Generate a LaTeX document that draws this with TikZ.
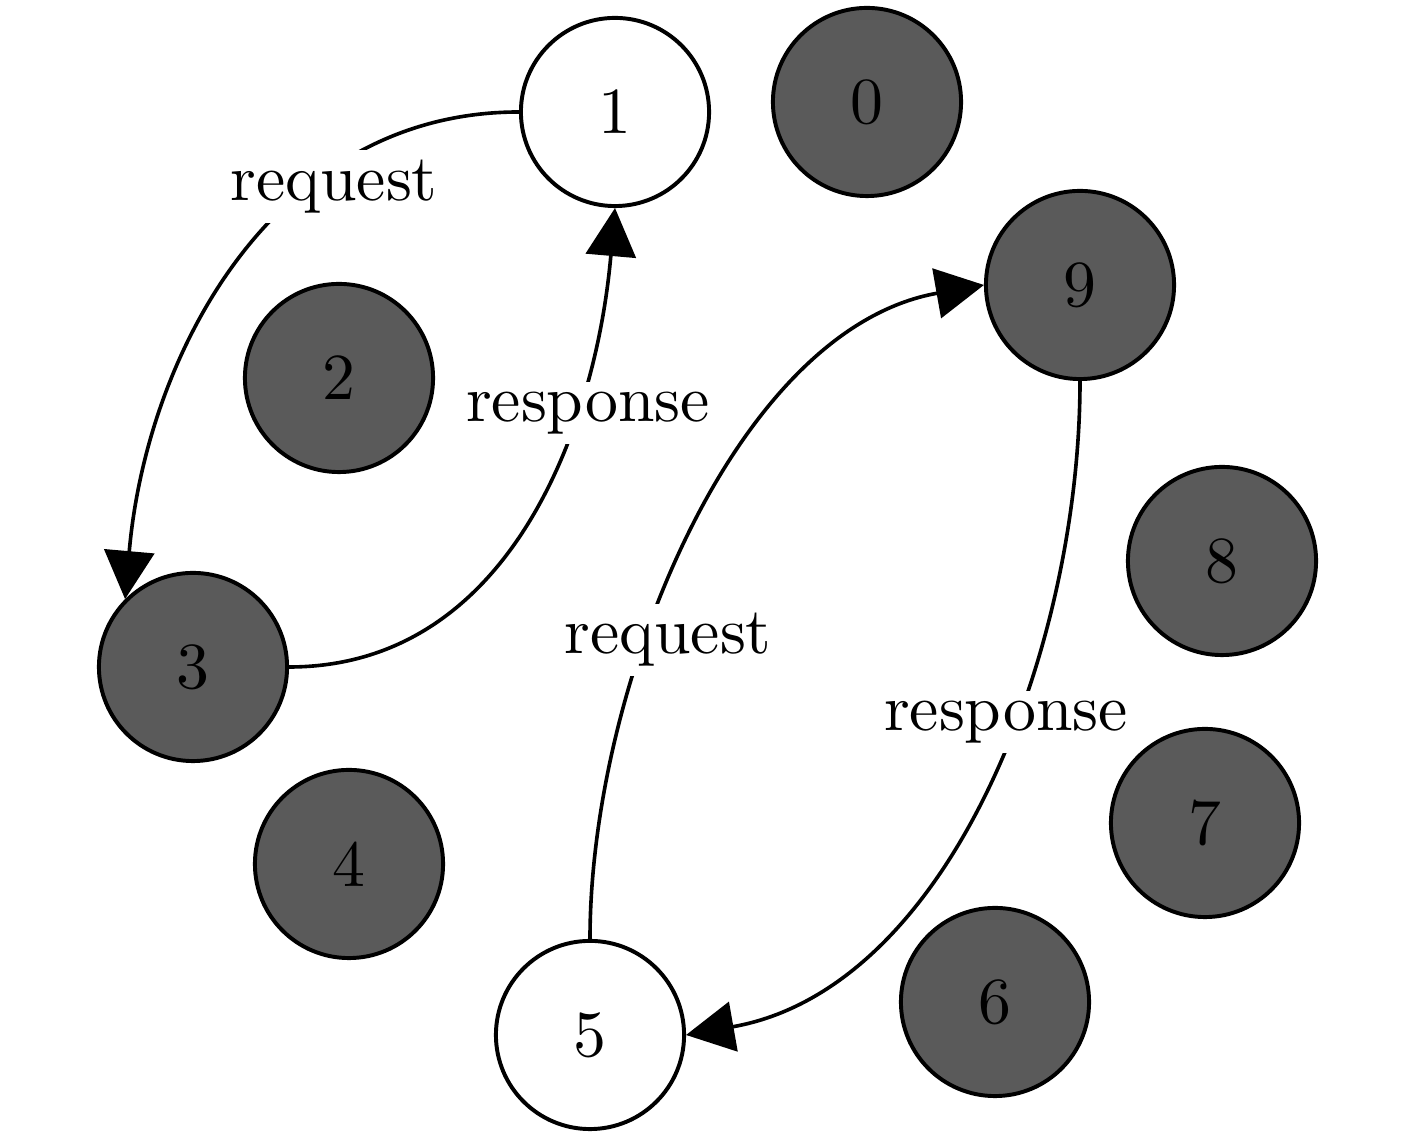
\documentclass[tikz,border=0pt]{standalone}
\usetikzlibrary{arrows.meta}
\definecolor{nodegray}{RGB}{90,90,90}
\begin{document}
\begin{tikzpicture}[x=0.152pt,y=-0.152pt,
  peer/.style={circle,draw=black,line width=0.6pt,minimum size=28.6pt,inner sep=0pt,fill=nodegray},
  active/.style={peer,fill=white},
  link/.style={line width=0.55pt,-{Triangle[length=7.3pt,width=7.6pt]}},
  lbl/.style={fill=white,inner sep=1.5pt}]
\useasboundingbox (0,0) rectangle (1417,1139);
\node[active] (n1) at (615,112) {1};
\node[peer] (n0) at (867,102) {0};
\node[peer] (n9) at (1080,285) {9};
\node[peer] (n2) at (339,378) {2};
\node[peer] (n8) at (1222,561) {8};
\node[peer] (n3) at (193,667) {3};
\node[peer] (n7) at (1205,823) {7};
\node[peer] (n4) at (349,864) {4};
\node[peer] (n6) at (995,1002) {6};
\node[active] (n5) at (590,1035) {5};
\draw[link] (n1.west) to[out=180,in=85] (n3.135);
\draw[link] (n3.east) to[out=0,in=-95] (n1.south);
\draw[link] (n5.north) to[out=90,in=190,looseness=0.85] (n9.west);
\draw[link] (n9.south) to[out=-90,in=10,looseness=0.9] (n5.east);
\node[lbl] (l13) at (334,187) {request};
\node[lbl] (l31) at (588,413) {response};
\node[lbl] (l59) at (668,640) {request};
\node[lbl] (l95) at (1006,722) {response};
\end{tikzpicture}
\end{document}
